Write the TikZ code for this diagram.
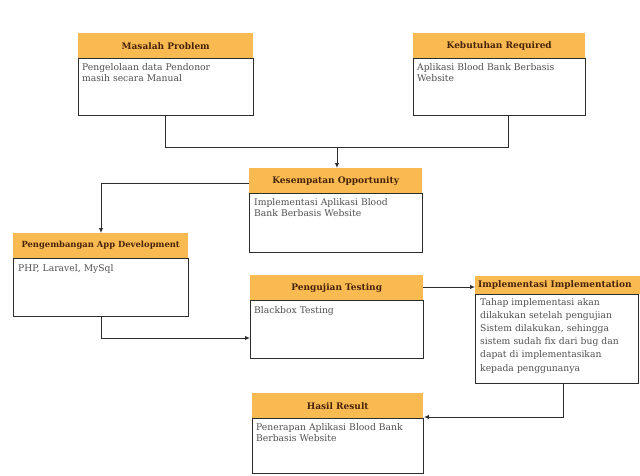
\documentclass[tikz,border=0pt]{standalone}
\usepackage{fontspec}
\setmainfont{DejaVu Serif}
\usetikzlibrary{arrows.meta}
\definecolor{hdr}{RGB}{250,186,82}
\definecolor{hdrtxt}{RGB}{70,35,10}
\definecolor{bodytxt}{RGB}{80,80,80}
\definecolor{edge}{RGB}{45,45,45}
\begin{document}
\begin{tikzpicture}[x=1pt,y=-1pt,
  hd/.style={fill=hdr, draw=none, anchor=north west, inner sep=0pt,
    font=\bfseries\fontsize{9}{10}\selectfont, text=hdrtxt},
  bd/.style={draw=edge, line width=1pt, fill=white, anchor=north west, inner sep=0pt},
  tx/.style={anchor=north west, inner sep=0pt, align=left, text=bodytxt,
    font=\fontsize{9.2}{11.2}\selectfont},
  conn/.style={draw=edge, line width=1pt},
  arr/.style={conn, -{Latex[length=5pt,width=4.5pt]}}
]
\useasboundingbox (0,0) rectangle (640,475);

% Masalah Problem
\node[bd, minimum width=175pt, minimum height=57pt] (mb) at (78,58) {};
\node[hd, minimum width=175pt, minimum height=25pt] (mh) at (78,33) {Masalah Problem};
\node[tx, text width=168pt] (mt) at (82,63) {Pengelolaan data Pendonor\\masih secara Manual};

% Kebutuhan Required
\node[bd, minimum width=172pt, minimum height=57pt] (kb) at (413,58) {};
\node[hd, minimum width=172pt, minimum height=25pt] (kh) at (413,33) {Kebutuhan Required};
\node[tx, text width=168pt] (kt) at (417,63) {Aplikasi Blood Bank Berbasis\\Website};

% Kesempatan Opportunity
\node[bd, minimum width=173pt, minimum height=59pt] (sb) at (249,193) {};
\node[hd, minimum width=173pt, minimum height=25pt] (sh) at (249,168) {Kesempatan Opportunity};
\node[tx, text width=168pt] (st) at (254,198) {Implementasi Aplikasi Blood\\Bank Berbasis Website};

% Pengembangan App Development
\node[bd, minimum width=175pt, minimum height=58pt] (pb) at (13,258) {};
\node[hd, minimum width=175pt, minimum height=25pt] (ph) at (13,233) {\fontsize{8.4}{10}\selectfont Pengembangan App Development};
\node[tx, text width=168pt] (pt) at (18,264) {PHP, Laravel, MySql};

% Pengujian Testing
\node[bd, minimum width=173pt, minimum height=58pt] (ub) at (250,300) {};
\node[hd, minimum width=173pt, minimum height=25pt] (uh) at (250,275) {Pengujian Testing};
\node[tx, text width=168pt] (ut) at (254,306) {Blackbox Testing};

% Implementasi Implementation
\node[bd, minimum width=163pt, minimum height=89pt] (ib) at (475,294) {};
\node[hd, minimum width=170pt, minimum height=18pt, text width=166pt, align=left, inner xsep=3pt] (ih) at (475,276) {Implementasi Implementation};
\node[tx, text width=160pt, font=\fontsize{9.2}{13.2}\selectfont] (it) at (480,298) {Tahap implementasi akan\\dilakukan setelah pengujian\\Sistem dilakukan, sehingga\\sistem sudah fix dari bug dan\\dapat di implementasikan\\kepada penggunanya};

% Hasil Result
\node[bd, minimum width=171pt, minimum height=55pt] (hb) at (252,418) {};
\node[hd, minimum width=171pt, minimum height=25pt] (hh) at (252,393) {Hasil Result};
\node[tx, text width=168pt] (ht) at (256,423) {Penerapan Aplikasi Blood Bank\\Berbasis Website};

% junction coordinates
\coordinate (j1) at (165,147);
\coordinate (j2) at (508,147);
\coordinate (j3) at (337,147);
\coordinate (j4) at (101,183);
\coordinate (j5) at (101,338);
\coordinate (j6) at (563,417);

% connectors
\draw[conn] (mb.south -| j1) -- (j1) -- (j2) -- (kb.south -| j2);
\draw[arr] (j3) -- (sh.north -| j3);
\draw[arr] (sh.west |- j4) -- (j4) -- (ph.north -| j4);
\draw[arr] (pb.south -| j5) -- (j5) -- (ub.west |- j5);
\draw[arr] (uh.east |- 0,287) -- (ih.west |- 0,287);
\draw[arr] (ib.south -| j6) -- (j6) -- (hb.north east |- j6);
\end{tikzpicture}
\end{document}
